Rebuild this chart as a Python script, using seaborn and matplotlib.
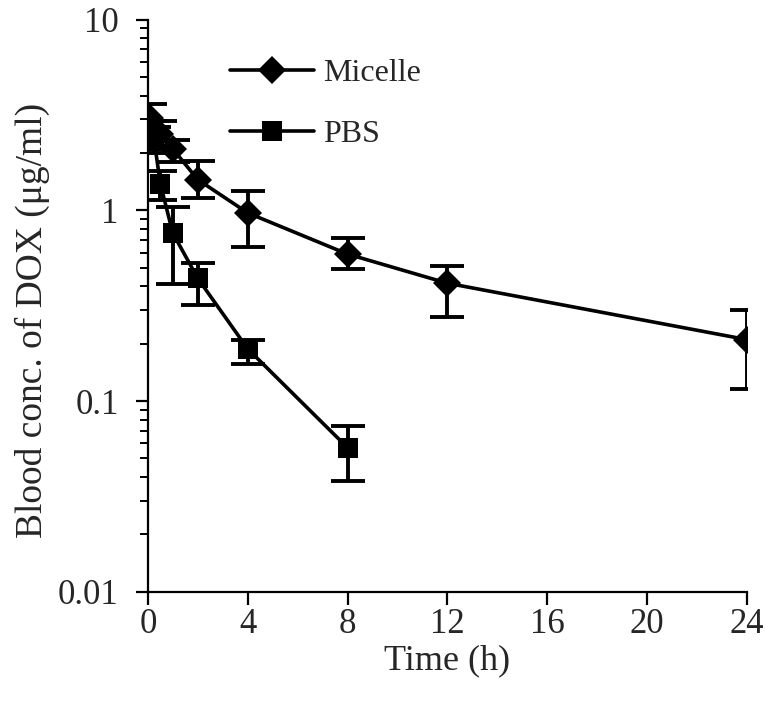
import numpy as np
import pandas as pd
import matplotlib
matplotlib.use('Agg')
import matplotlib.pyplot as plt
import matplotlib.ticker as mticker
import seaborn as sns

# Datos
t_micelle = [0.083, 0.5, 1, 2, 4, 8, 12, 24]
c_micelle = [3.05, 2.5, 2.1, 1.45, 0.97, 0.59, 0.415, 0.21]
lo_micelle = [2.6, 2.1, 1.8, 1.16, 0.64, 0.49, 0.275, 0.116]
hi_micelle = [3.6, 2.95, 2.35, 1.82, 1.26, 0.72, 0.51, 0.30]

t_pbs = [0.083, 0.25, 0.5, 1, 2, 4, 8]
c_pbs = [2.5, 2.35, 1.38, 0.76, 0.44, 0.188, 0.057]
lo_pbs = [2.1, 2.0, 1.14, 0.41, 0.32, 0.157, 0.038]
hi_pbs = [2.95, 2.75, 1.6, 1.04, 0.53, 0.21, 0.074]

x_ticks = [0, 4, 8, 12, 16, 20, 24]
y_ticks = [0.01, 0.1, 1, 10]
y_labels = ['0.01', '0.1', '1', '10']

sns.set_style('ticks')
plt.rcParams['font.family'] = ['Liberation Serif', 'DejaVu Serif']

df = pd.concat([
    pd.DataFrame({'t': t_micelle, 'c': c_micelle, 'grupo': 'Micelle'}),
    pd.DataFrame({'t': t_pbs, 'c': c_pbs, 'grupo': 'PBS'}),
])

fig = plt.figure(figsize=(7.66, 7.02), dpi=100)
ax = fig.add_axes([0.193, 0.157, 0.782, 0.815])

# barras de error
for t, c, lo, hi in [(t_micelle, c_micelle, lo_micelle, hi_micelle),
                     (t_pbs, c_pbs, lo_pbs, hi_pbs)]:
    c = np.array(c)
    yerr = [c - np.array(lo), np.array(hi) - c]
    ax.errorbar(t, c, yerr=yerr, fmt='none', ecolor='black',
                elinewidth=2.8, capsize=12, capthick=2.8, zorder=2)

sns.lineplot(data=df, x='t', y='c', hue='grupo', style='grupo',
             markers={'Micelle': 'D', 'PBS': 's'}, dashes=False,
             palette={'Micelle': 'black', 'PBS': 'black'},
             markersize=15, linewidth=2.6, markeredgewidth=0,
             ax=ax, zorder=3)
for ln in ax.lines:
    if ln.get_marker() == 'D':
        ln.set_markersize(14)

ax.set_yscale('log')
ax.set_ylim(0.01, 10)
ax.set_xlim(0, 24)
ax.set_xticks(x_ticks)
ax.set_yticks(y_ticks)
ax.set_yticklabels(y_labels)
ax.yaxis.set_minor_locator(mticker.LogLocator(base=10, subs=np.arange(2, 10)))
ax.yaxis.set_minor_formatter(mticker.NullFormatter())

ax.tick_params(axis='both', which='major', direction='out', length=9,
               width=1.6, labelsize=25, color='black')
ax.tick_params(axis='y', which='major', pad=12)
ax.tick_params(axis='x', which='major', pad=3)
ax.tick_params(axis='y', which='minor', direction='out', length=6,
               width=1.4, color='black')
for s in ['left', 'bottom']:
    ax.spines[s].set_linewidth(1.6)
    ax.spines[s].set_color('black')
sns.despine(ax=ax)

ax.set_xlabel('Time (h)', fontsize=26, labelpad=2)
ax.set_ylabel('Blood conc. of DOX (μg/ml)', fontsize=27)
ax.yaxis.set_label_coords(-0.163, 0.475)

leg = ax.legend(loc='upper left', bbox_to_anchor=(0.09, 0.982), frameon=False,
                fontsize=23, handlelength=2.6, handletextpad=0.3,
                labelspacing=1.0, title=None)
for h in leg.legend_handles:
    h.set_color('black')

fig.savefig('out.png', dpi=100)
